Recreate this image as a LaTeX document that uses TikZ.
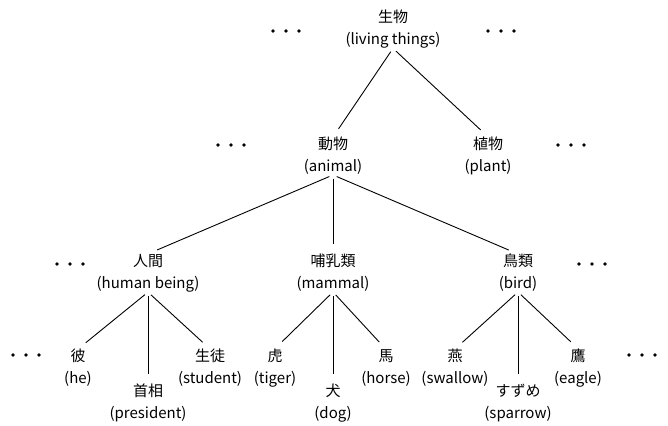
\documentclass[tikz,border=0pt]{standalone}
\usepackage{fontspec}
\setmainfont{Noto Sans CJK JP}
\begin{document}
\begin{tikzpicture}[x=1pt,y=-1pt,
  lbl/.style={align=center,inner sep=0pt,font=\fontsize{15}{22}\selectfont},
  edge/.style={line width=0.9pt,shorten <=4pt,shorten >=10pt},
  dotr/.style={}]
\useasboundingbox (0,0) rectangle (668,425);
\newcommand{\threedots}[2]{\foreach \k in {0,1,2}{\fill ({#1+\k*13},#2) circle (1.9);}}
\node[lbl] (living) at (393,29) {生物\\(living things)};
\node[lbl] (animal) at (333,156) {動物\\(animal)};
\node[lbl] (plant) at (488,156) {植物\\(plant)};
\node[lbl] (human) at (148,273) {人間\\(human being)};
\node[lbl] (mammal) at (333,273) {哺乳類\\(mammal)};
\node[lbl] (bird) at (518,273) {鳥類\\(bird)};
\node[lbl] (he) at (78,368) {彼\\(he)};
\node[lbl] (president) at (148,403) {首相\\(president)};
\node[lbl] (student) at (210,368) {生徒\\(student)};
\node[lbl] (tiger) at (275,368) {虎\\(tiger)};
\node[lbl] (dog) at (333,403) {犬\\(dog)};
\node[lbl] (horse) at (386,368) {馬\\(horse)};
\node[lbl] (swallow) at (455,368) {燕\\(swallow)};
\node[lbl] (sparrow) at (518,403) {すずめ\\(sparrow)};
\node[lbl] (eagle) at (578,368) {鷹\\(eagle)};
\foreach \p/\c in {living/animal,living/plant,animal/human,animal/mammal,animal/bird,
  human/he,human/president,human/student,mammal/tiger,mammal/dog,mammal/horse,
  bird/swallow,bird/sparrow,bird/eagle}
  \draw[edge] (\p.south) -- (\c.north);
\threedots{273}{31}
\threedots{488}{31}
\threedots{218}{145}
\threedots{558}{145}
\threedots{57}{264}
\threedots{579}{264}
\threedots{13}{355}
\threedots{629}{355}
\end{tikzpicture}
\end{document}
